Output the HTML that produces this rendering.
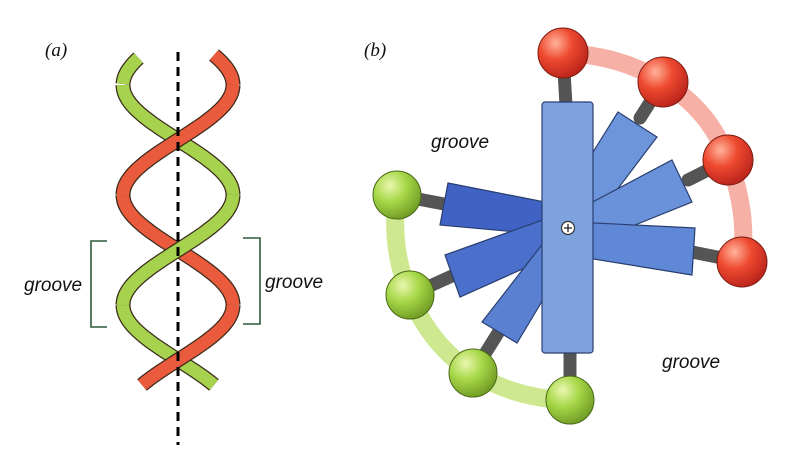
<!DOCTYPE html>
<html><head><meta charset="utf-8"><style>
html,body{margin:0;padding:0;background:#fff;width:786px;height:457px;overflow:hidden}
text{font-family:"Liberation Sans",sans-serif;font-style:italic;fill:#111}
</style></head><body>
<svg width="786" height="457" viewBox="0 0 786 457" xmlns="http://www.w3.org/2000/svg">
<defs>
<radialGradient id="rb" cx="0.35" cy="0.3" r="0.75"><stop offset="0" stop-color="#ffb39a"/><stop offset="0.45" stop-color="#ee4a30"/><stop offset="1" stop-color="#b8221a"/></radialGradient>
<radialGradient id="gb" cx="0.35" cy="0.3" r="0.75"><stop offset="0" stop-color="#eaf7b0"/><stop offset="0.45" stop-color="#a8d84a"/><stop offset="1" stop-color="#6e9a22"/></radialGradient>
</defs>
<!-- Panel a -->
<text x="45" y="56" font-size="19" style="font-family:'Liberation Serif',serif">(a)</text>
<g id="helix" fill="none" stroke-linecap="butt"></g>
<line x1="178" y1="52" x2="178" y2="445" stroke="#000" stroke-width="3" stroke-dasharray="9,6"/>
<path d="M107 241 H91 V327 H107" fill="none" stroke="#2f5a3a" stroke-width="1.6"/>
<path d="M243 238 H260 V324 H243" fill="none" stroke="#2f5a3a" stroke-width="1.6"/>
<text x="24" y="291" font-size="19">groove</text>
<text x="265" y="288" font-size="19">groove</text>

<!-- Panel b -->
<text x="364" y="56" font-size="19" style="font-family:'Liberation Serif',serif">(b)</text>
<path d="M563 53 Q620 55 663 82 Q710 110 728 160 Q748 210 742 262" fill="none" stroke="#f6b0a6" stroke-width="18"/>
<path d="M397 195 Q390 250 410 295 Q430 345 473 373 Q520 400 570 400" fill="none" stroke="#cde88e" stroke-width="18"/>
<g stroke="#555" stroke-width="13" stroke-linecap="round">
<line x1="566" y1="105" x2="563" y2="55"/>
<line x1="570" y1="350" x2="570" y2="398"/>
<line x1="640" y1="118" x2="663" y2="82"/>
<line x1="688" y1="180" x2="728" y2="160"/>
<line x1="692" y1="252" x2="742" y2="262"/>
<line x1="444" y1="204" x2="397" y2="195"/>
<line x1="452" y1="276" x2="410" y2="295"/>
<line x1="498" y1="333" x2="473" y2="373"/>
</g>
<g stroke="#2a3f70" stroke-width="1.2">
<polygon points="448,183 560,205 560,236 440,225" fill="#3f62c4"/>
<polygon points="445,255 565,212 565,250 460,297" fill="#4a70cc"/>
<polygon points="482,322 565,215 562,268 517,343" fill="#5a80d2"/>
<polygon points="618,112 657,137 585,232 560,205" fill="#6d95db"/>
<polygon points="672,160 692,202 578,248 568,215" fill="#6a92da"/>
<polygon points="695,228 692,275 575,256 575,222" fill="#5f88d6"/>
<rect x="542" y="102" width="51" height="251" rx="3" fill="#7ea2de"/>
</g>
<circle cx="568" cy="228" r="6.5" fill="#fff" stroke="#333" stroke-width="1.2"/>
<path d="M564 228 H572 M568 224 V232" stroke="#222" stroke-width="1.3"/>
<g stroke="#7a1a10" stroke-width="1">
<circle cx="563" cy="53" r="25" fill="url(#rb)"/>
<circle cx="663" cy="82" r="25" fill="url(#rb)"/>
<circle cx="728" cy="160" r="25" fill="url(#rb)"/>
<circle cx="742" cy="262" r="25" fill="url(#rb)"/>
</g>
<g stroke="#4a6a18" stroke-width="1">
<circle cx="397" cy="195" r="24" fill="url(#gb)"/>
<circle cx="410" cy="295" r="24" fill="url(#gb)"/>
<circle cx="473" cy="373" r="24" fill="url(#gb)"/>
<circle cx="570" cy="400" r="24" fill="url(#gb)"/>
</g>
<text x="431" y="148" font-size="19">groove</text>
<text x="662" y="368" font-size="19">groove</text>
</svg>
<script>
(function(){
var g=document.getElementById('helix');
function pts(sign,y0,y1){var s=[];for(var y=y0;y<=y1+0.01;y+=2){var x=178+sign*55*Math.sin(Math.PI*(y-140)/110);s.push(x.toFixed(1)+','+y);}return s.join(' ');}
function seg(sign,y0,y1,col){
 var a=document.createElementNS('http://www.w3.org/2000/svg','polyline');
 a.setAttribute('points',pts(sign,y0,y1));a.setAttribute('stroke','#3a2a1a');a.setAttribute('stroke-width','15');a.setAttribute('fill','none');g.appendChild(a);
 var b=document.createElementNS('http://www.w3.org/2000/svg','polyline');
 b.setAttribute('points',pts(sign,y0,y1));b.setAttribute('stroke',col);b.setAttribute('stroke-width','12.5');b.setAttribute('fill','none');g.appendChild(b);
}
var G='#a6d24e',R='#ea5a3c';
seg(1,58,85,G);seg(1,85,195,G);seg(1,305,385,G);
seg(-1,55,85,R);seg(-1,195,305,R);
seg(-1,85,195,R);seg(1,195,305,G);seg(-1,305,385,R);
})();
</script>
</body></html>
